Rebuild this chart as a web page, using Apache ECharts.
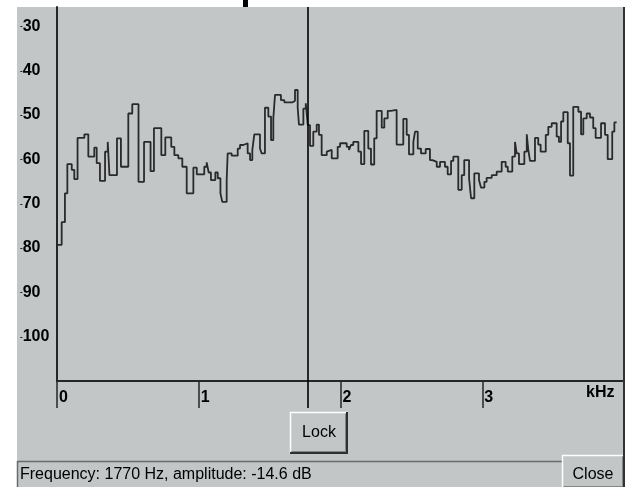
<!DOCTYPE html>
<html>
<head>
<meta charset="utf-8">
<script src="https://cdn.jsdelivr.net/npm/echarts@6/dist/echarts.min.js"></script>
<style>
  html, body { margin: 0; padding: 0; background: #ffffff; }
  #chart { width: 631px; height: 487px; }
</style>
</head>
<body>
<div id="chart"></div>
<script>
// Spectrum (step breakpoints): start frequency of each step (Hz) and its level (dB)
const freqHz = [0, 33, 56, 73, 104, 122, 145, 193, 221, 263, 280, 303, 339, 358, 370, 423, 451, 503, 531, 575,
  614, 660, 684, 736, 764, 806, 828, 856, 884, 915, 962, 986, 1039, 1056, 1070, 1086, 1117, 1134, 1153, 1166,
  1197, 1204, 1232, 1275, 1291, 1314, 1345, 1362, 1378, 1392, 1432, 1444, 1467, 1491, 1510, 1526, 1538, 1580, 1604, 1660,
  1679, 1698, 1707, 1738, 1755, 1769, 1785, 1808, 1832, 1848, 1867, 1903, 1914, 1938, 1980, 1997, 2044, 2060, 2074, 2090,
  2126, 2145, 2168, 2196, 2215, 2238, 2255, 2291, 2309, 2333, 2356, 2396, 2443, 2467, 2483, 2514, 2526, 2545, 2568, 2601,
  2631, 2648, 2679, 2702, 2737, 2756, 2780, 2796, 2831, 2855, 2873, 2907, 2921, 2944, 2977, 2991, 3015, 3031, 3067, 3102,
  3137, 3165, 3180, 3212, 3231, 3243, 3259, 3297, 3314, 3325, 3337, 3372, 3395, 3412, 3448, 3466, 3490, 3525, 3541, 3556,
  3572, 3603, 3619, 3642, 3678, 3697, 3713, 3737, 3760, 3783, 3800, 3838, 3866, 3885, 3917, 3932, 3948];
const ampDb = [-79.3, -74.2, -67.7, -61.1, -62.4, -64.5, -55.2, -54.4, -59.4, -57.4, -60.9, -64.9, -58.3, -56.1, -63.6, -55.3, -61.7, -49.7, -47.6, -65.1,
  -56.1, -62.7, -53.0, -59.1, -55.1, -57.2, -59.1, -59.8, -61.7, -67.7, -61.9, -63.4, -61.7, -60.7, -63.0, -64.7, -63.0, -64.3, -67.7, -69.6,
  -64.7, -58.7, -59.2, -57.6, -56.8, -56.4, -58.7, -60.2, -57.9, -54.4, -57.6, -58.7, -48.4, -50.4, -55.7, -50.8, -45.5, -46.7, -47.2, -46.8,
  -44.4, -48.4, -52.2, -48.6, -47.4, -52.3, -57.0, -53.8, -52.2, -54.5, -59.1, -58.3, -57.9, -59.8, -57.2, -56.4, -57.2, -57.9, -56.8, -56.1,
  -58.3, -61.1, -53.6, -57.6, -61.2, -55.3, -49.1, -52.9, -50.8, -49.1, -48.9, -56.7, -50.9, -54.5, -58.9, -56.1, -53.8, -57.6, -58.7, -57.7,
  -60.2, -60.6, -61.7, -60.6, -61.7, -63.4, -60.4, -59.4, -66.9, -63.6, -60.2, -64.3, -68.8, -63.2, -64.7, -66.4, -65.1, -64.2, -63.6, -62.8,
  -60.6, -61.7, -62.8, -59.4, -56.1, -58.7, -61.1, -58.3, -54.4, -57.9, -60.4, -55.2, -56.7, -58.3, -54.5, -52.7, -51.9, -54.9, -56.1, -51.5,
  -49.4, -56.4, -63.7, -48.2, -49.3, -54.4, -50.8, -49.7, -50.6, -53.0, -55.2, -51.9, -54.5, -60.0, -53.8, -51.7, -51.7];

const cursorHz = 1770;
const cursorDb = -14.6;
const xTickValues = [0, 1000, 2000, 3000];
const yLabelValues = [-100, -90, -80, -70, -60, -50, -40, -30];
const statusText = 'Frequency: ' + cursorHz + ' Hz, amplitude: ' + cursorDb + ' dB';

const FONT = "'Liberation Sans', Arial, sans-serif";
const GRAY = '#c2c6c6';
const DARK = '#262626';

function bevelButton(x, y, w, h) {
  return [
    { type: 'rect', z: 1, shape: { x: x, y: y, width: w, height: h }, style: { fill: GRAY } },
    { type: 'line', z: 2, shape: { x1: x, y1: y + 0.5, x2: x + w, y2: y + 0.5 }, style: { stroke: '#ffffff', lineWidth: 1.5 } },
    { type: 'line', z: 2, shape: { x1: x + 0.5, y1: y, x2: x + 0.5, y2: y + h }, style: { stroke: '#ffffff', lineWidth: 1.5 } },
    { type: 'line', z: 2, shape: { x1: x, y1: y + h - 1, x2: x + w, y2: y + h - 1 }, style: { stroke: '#303030', lineWidth: 2 } },
    { type: 'line', z: 2, shape: { x1: x + w - 1, y1: y, x2: x + w - 1, y2: y + h }, style: { stroke: '#303030', lineWidth: 2 } },
    { type: 'line', z: 2, shape: { x1: x + 1.5, y1: y + h - 2.5, x2: x + w - 2, y2: y + h - 2.5 }, style: { stroke: '#858585', lineWidth: 1 } },
    { type: 'line', z: 2, shape: { x1: x + w - 2.5, y1: y + 1.5, x2: x + w - 2.5, y2: y + h - 2 }, style: { stroke: '#858585', lineWidth: 1 } }
  ];
}

const chart = echarts.init(document.getElementById('chart'), null, { renderer: 'canvas' });

const graphics = [
  { type: 'rect', z: -10, shape: { x: 17, y: 7, width: 608, height: 480 }, style: { fill: GRAY } },
  { type: 'rect', z: 5, shape: { x: 243, y: 0, width: 5, height: 7 }, style: { fill: '#000000' } },
  { type: 'line', z: 5, shape: { x1: 624, y1: 7, x2: 624, y2: 487 }, style: { stroke: '#333333', lineWidth: 2 } },
  { type: 'text', z: 5, x: 586, y: 393, style: { text: 'kHz', font: 'bold 16px ' + FONT, fill: '#000', textAlign: 'left', textVerticalAlign: 'middle' } },
  // status bar (sunken)
  { type: 'line', z: 2, shape: { x1: 17, y1: 461.5, x2: 562, y2: 461.5 }, style: { stroke: '#6a6a6a', lineWidth: 1.5 } },
  { type: 'line', z: 2, shape: { x1: 17.5, y1: 461, x2: 17.5, y2: 487 }, style: { stroke: '#6a6a6a', lineWidth: 1.5 } },
  { type: 'text', z: 5, x: 20, y: 475, style: { text: statusText, font: '16px ' + FONT, fill: '#000', textAlign: 'left', textVerticalAlign: 'middle' } }
].concat(bevelButton(290, 412, 58, 42)).concat([
  { type: 'text', z: 5, x: 319, y: 433, style: { text: 'Lock', font: '16px ' + FONT, fill: '#000', textAlign: 'center', textVerticalAlign: 'middle' } }
]).concat(bevelButton(562, 455, 63, 34)).concat([
  { type: 'text', z: 5, x: 593, y: 475, style: { text: 'Close', font: '16px ' + FONT, fill: '#000', textAlign: 'center', textVerticalAlign: 'middle' } }
]);

const plotTop = 7, plotBottomY = 381, pxPerDb = 4.436;
const yMin = -110;
const yMax = yMin + (plotBottomY - plotTop) / pxPerDb;

const option = {
  animation: false,
  backgroundColor: '#ffffff',
  grid: [
    { left: 57, top: plotTop, width: 567, height: plotBottomY - plotTop, outerBoundsMode: 'none' },
    { left: 57, top: plotTop, width: 567, height: 408 - plotTop, outerBoundsMode: 'none' }
  ],
  xAxis: [
    {
      type: 'value', gridIndex: 0, min: 0, max: 4000, interval: 1000,
      axisLine: { show: true, lineStyle: { color: DARK, width: 2 } },
      axisTick: { show: true, length: 27, lineStyle: { color: DARK, width: 1.5 } },
      splitLine: { show: false },
      axisLabel: {
        show: true, margin: 9, align: 'left', padding: [0, 0, 0, 2],
        fontFamily: FONT, fontWeight: 'bold', fontSize: 16, color: '#000',
        formatter: function (v) { return xTickValues.indexOf(v) >= 0 ? String(v / 1000) : ''; }
      }
    },
    { type: 'value', gridIndex: 1, min: 0, max: 4000, show: false }
  ],
  yAxis: [
    {
      type: 'value', gridIndex: 0, min: yMin, max: yMax, interval: 10,
      axisLine: { show: true, lineStyle: { color: DARK, width: 2 } },
      axisTick: { show: false },
      splitLine: { show: false },
      axisLabel: {
        show: true, align: 'left', margin: 37,
        formatter: function (v) {
          if (yLabelValues.indexOf(Math.round(v * 1000) / 1000) < 0) return '';
          return '{m|-}{n|' + Math.abs(v) + '}';
        },
        rich: {
          m: { fontFamily: FONT, fontWeight: 'bold', fontSize: 8, color: '#000' },
          n: { fontFamily: FONT, fontWeight: 'bold', fontSize: 16, color: '#000' }
        }
      }
    },
    { type: 'value', gridIndex: 1, min: 0, max: 1, show: false }
  ],
  series: [
    {
      type: 'line', xAxisIndex: 0, yAxisIndex: 0, step: 'end',
      data: freqHz.map(function (f, i) { return [f, ampDb[i]]; }),
      symbol: 'none', lineStyle: { color: '#2a2a2a', width: 1.8 }, z: 3
    },
    {
      type: 'line', xAxisIndex: 1, yAxisIndex: 1, data: [],
      symbol: 'none', silent: true,
      markLine: {
        silent: true, symbol: 'none', label: { show: false }, animation: false,
        lineStyle: { color: '#000000', width: 1.6, type: 'solid' },
        data: [{ xAxis: cursorHz }]
      },
      z: 4
    }
  ],
  graphic: { elements: graphics }
};

chart.setOption(option);
</script>
</body>
</html>
